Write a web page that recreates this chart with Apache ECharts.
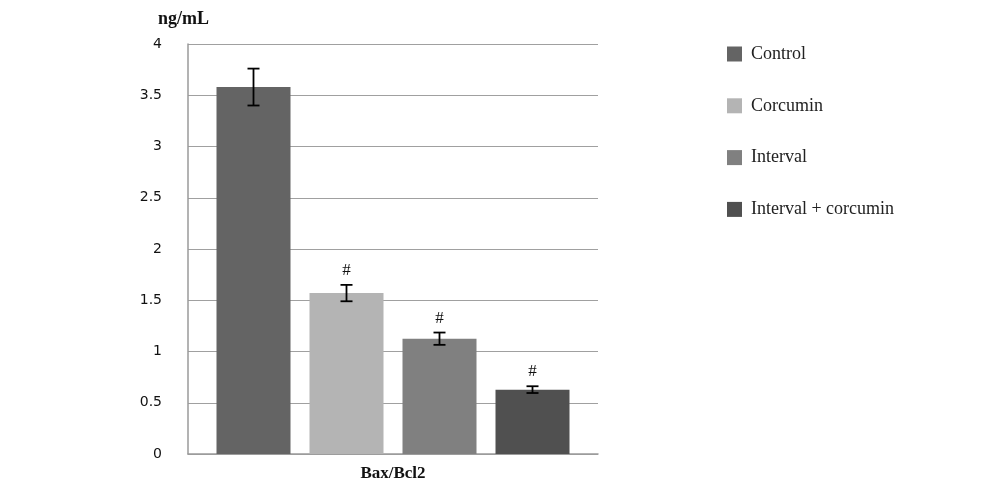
<!DOCTYPE html>
<html><head><meta charset="utf-8">
<script src="https://cdn.jsdelivr.net/npm/echarts@6/dist/echarts.min.js"></script>
<style>html,body{margin:0;padding:0;background:#fff}#c{width:1000px;height:488px}</style>
</head><body><div id="c"></div>
<script>
const categories = ['Bax/Bcl2'];
const groups = ['Control', 'Corcumin', 'Interval', 'Interval + corcumin'];
const means = [3.58, 1.57, 1.125, 0.628];
const errors = [0.18, 0.08, 0.06, 0.033];
const marks = ['', '#', '#', '#'];
const colors = ['#646464', '#b4b4b4', '#808080', '#505050'];

const BAR_W = 74, BAR_GAP = 19;
const serif = '"Liberation Serif", "DejaVu Serif", serif';

const chart = echarts.init(document.getElementById('c'));
const barSeries = groups.map((g, i) => ({
  name: g, type: 'bar', data: [means[i]], barWidth: BAR_W, barGap: (BAR_GAP / BAR_W * 100) + '%',
  itemStyle: { color: colors[i] }, z: 2
}));
const errData = groups.map((g, i) => [0, means[i] - errors[i], means[i] + errors[i], i]);

chart.setOption({
  animation: false,
  color: colors,
  title: { text: 'ng/mL', left: 153, top: 5, textStyle: { fontFamily: serif, fontWeight: 'bold', fontSize: 18, color: '#111' } },
  legend: {
    orient: 'vertical', left: 722, top: 40, itemWidth: 15, itemHeight: 15, itemGap: 33.8,
    icon: 'rect', data: groups,
    textStyle: { fontFamily: serif, fontSize: 18, color: '#222', lineHeight: 15, padding: [0, 0, 0, 4] }
  },
  grid: { left: 188, right: 402, top: 44, bottom: 34 },
  xAxis: {
    type: 'category', data: categories,
    axisLine: { lineStyle: { color: '#9a9a9a', width: 1.5 } }, axisTick: { show: false },
    axisLabel: { fontFamily: serif, fontWeight: 'bold', fontSize: 17, color: '#111', margin: 11 }
  },
  yAxis: {
    type: 'value', min: 0, max: 4, interval: 0.5,
    axisLine: { show: true, lineStyle: { color: '#9a9a9a', width: 1.5 } }, axisTick: { show: false },
    axisLabel: { fontFamily: '"DejaVu Sans", sans-serif', fontSize: 14, color: '#111', margin: 26 },
    splitLine: { lineStyle: { color: '#a0a0a0', width: 1.2 } }
  },
  series: barSeries.concat([{
    type: 'custom', z: 5, data: errData,
    renderItem: function (params, api) {
      const idx = api.value(3);
      const lo = api.coord([0, api.value(1)]);
      const hi = api.coord([0, api.value(2)]);
      const x = lo[0] + (idx - 1.5) * (BAR_W + BAR_GAP);
      const cap = 6;
      const st = { stroke: '#000', lineWidth: 1.8 };
      const children = [
        { type: 'line', shape: { x1: x, y1: lo[1], x2: x, y2: hi[1] }, style: st },
        { type: 'line', shape: { x1: x - cap, y1: lo[1], x2: x + cap, y2: lo[1] }, style: st },
        { type: 'line', shape: { x1: x - cap, y1: hi[1], x2: x + cap, y2: hi[1] }, style: st }
      ];
      const m = marks[params.dataIndex];
      if (m) children.push({ type: 'text', style: { text: m, x: x, y: hi[1] - 6, textAlign: 'center', textVerticalAlign: 'bottom', font: '17px ' + serif, fill: '#111' } });
      return { type: 'group', children: children };
    }
  }])
});
</script></body></html>
